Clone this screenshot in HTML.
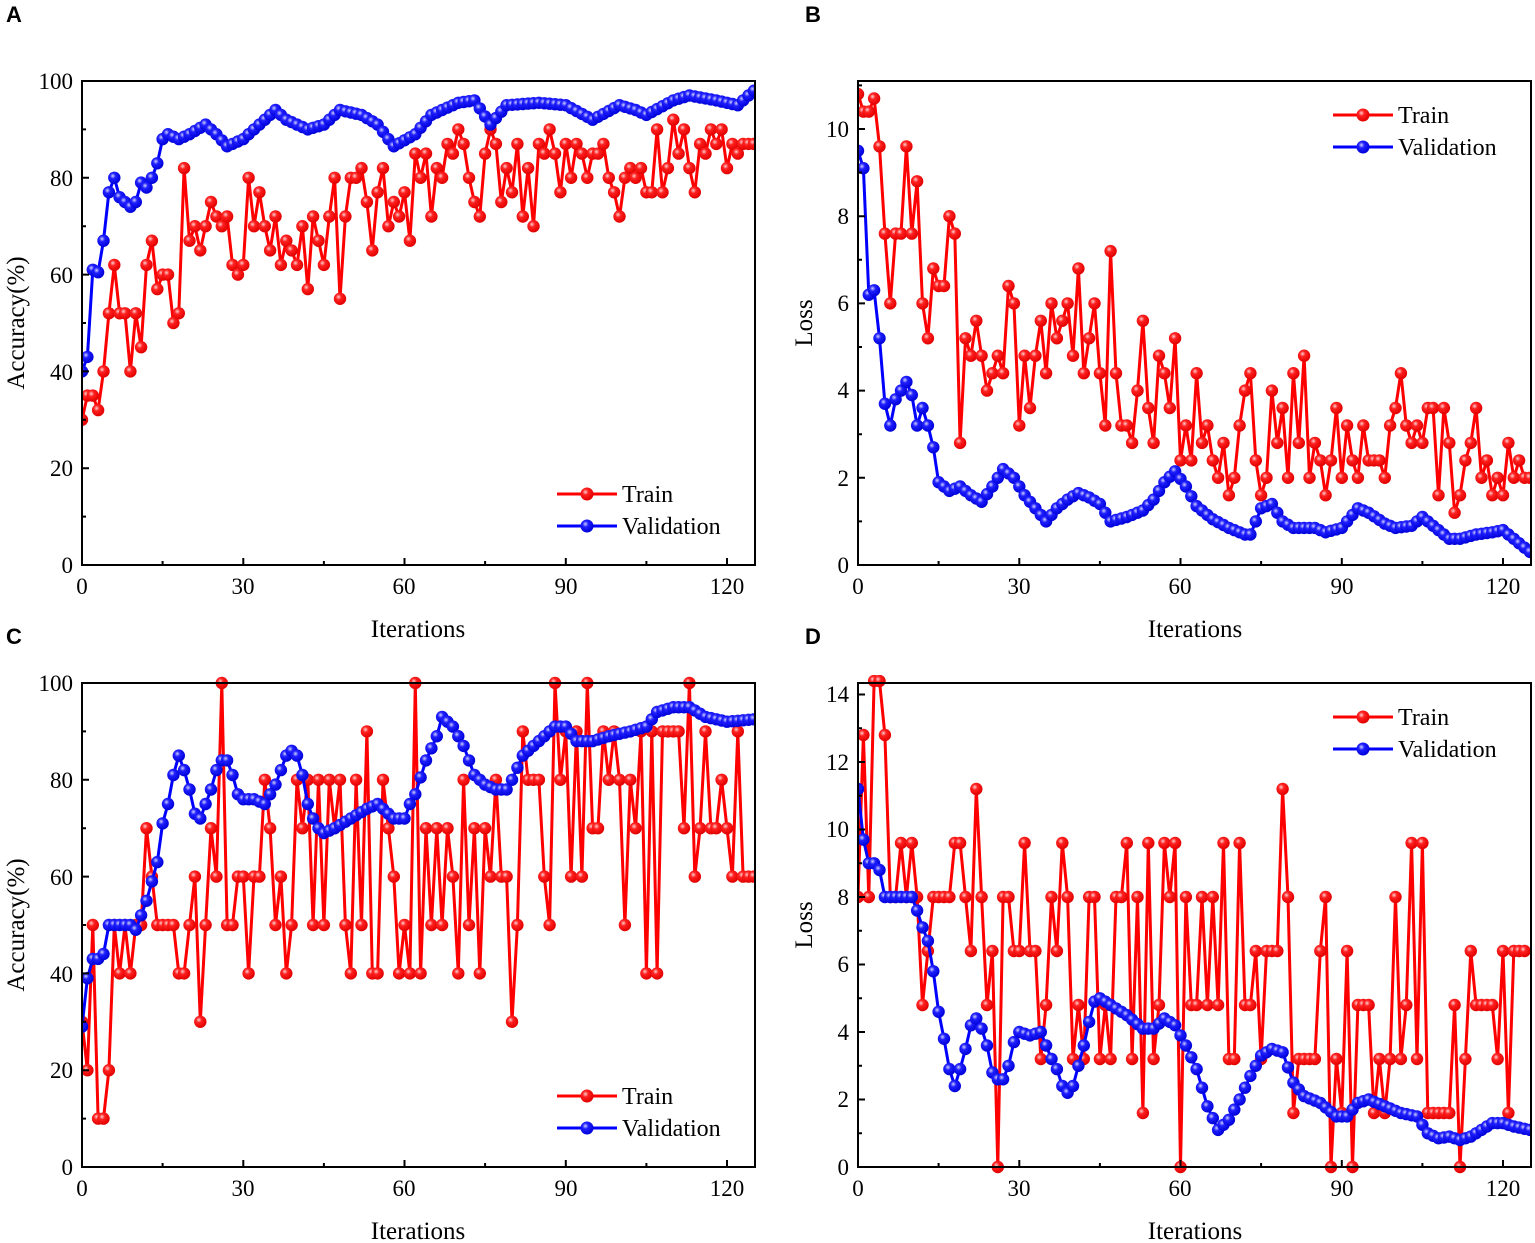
<!DOCTYPE html>
<html><head><meta charset="utf-8"><style>
html,body{margin:0;padding:0;background:#fff}
svg{display:block}
text{font-family:"Liberation Serif",serif;fill:#000}
.lt{font-family:"Liberation Sans",sans-serif;font-weight:bold;font-size:22px}
</style></head><body>
<svg id="s" width="1535" height="1243" xmlns="http://www.w3.org/2000/svg">
<defs>
<radialGradient id="gr" cx="0.38" cy="0.35" r="0.65"><stop offset="0" stop-color="#ffd0d0"/><stop offset="0.35" stop-color="#ff2020"/><stop offset="1" stop-color="#e00000"/></radialGradient>
<radialGradient id="gb" cx="0.38" cy="0.35" r="0.65"><stop offset="0" stop-color="#d0d0ff"/><stop offset="0.35" stop-color="#2020ff"/><stop offset="1" stop-color="#0000d8"/></radialGradient>
</defs>
<text class="lt" x="6" y="22">A</text>
<text class="lt" x="805" y="22">B</text>
<text class="lt" x="6" y="644">C</text>
<text class="lt" x="805" y="644">D</text>
<g font-size="23" text-anchor="end">
<text x="73" y="89">100</text><text x="73" y="186">80</text><text x="73" y="283">60</text><text x="73" y="380">40</text><text x="73" y="476">20</text><text x="73" y="573">0</text>
<text x="73" y="691">100</text><text x="73" y="788">80</text><text x="73" y="885">60</text><text x="73" y="982">40</text><text x="73" y="1078">20</text><text x="73" y="1175">0</text>
<text x="849" y="137">10</text><text x="849" y="224">8</text><text x="849" y="311">6</text><text x="849" y="398">4</text><text x="849" y="486">2</text><text x="849" y="573">0</text>
<text x="849" y="702">14</text><text x="849" y="770">12</text><text x="849" y="837">10</text><text x="849" y="905">8</text><text x="849" y="972">6</text><text x="849" y="1040">4</text><text x="849" y="1107">2</text><text x="849" y="1175">0</text>
</g>
<g font-size="23" text-anchor="middle">
<text x="82" y="594">0</text><text x="243" y="594">30</text><text x="404" y="594">60</text><text x="566" y="594">90</text><text x="727" y="594">120</text>
<text x="858" y="594">0</text><text x="1019" y="594">30</text><text x="1180" y="594">60</text><text x="1342" y="594">90</text><text x="1503" y="594">120</text>
<text x="82" y="1196">0</text><text x="243" y="1196">30</text><text x="404" y="1196">60</text><text x="566" y="1196">90</text><text x="727" y="1196">120</text>
<text x="858" y="1196">0</text><text x="1019" y="1196">30</text><text x="1180" y="1196">60</text><text x="1342" y="1196">90</text><text x="1503" y="1196">120</text>
<text x="418" y="637" font-size="25">Iterations</text><text x="1195" y="637" font-size="25">Iterations</text>
<text x="418" y="1239" font-size="25">Iterations</text><text x="1195" y="1239" font-size="25">Iterations</text>
<text transform="translate(24,323) rotate(-90)" font-size="25">Accuracy(%)</text>
<text transform="translate(24,925) rotate(-90)" font-size="25">Accuracy(%)</text>
<text transform="translate(812,323) rotate(-90)" font-size="25">Loss</text>
<text transform="translate(812,925) rotate(-90)" font-size="25">Loss</text>
</g>
<g font-size="24">
<text x="622" y="502">Train</text><text x="622" y="534">Validation</text>
<text x="1398" y="123">Train</text><text x="1398" y="155">Validation</text>
<text x="622" y="1104">Train</text><text x="622" y="1136">Validation</text>
<text x="1398" y="725">Train</text><text x="1398" y="757">Validation</text>
</g>
<g id="plots"></g>
</svg>
<script>
function interp(k,n){var keys=Object.keys(k).map(Number).sort((a,b)=>a-b),o=[];for(var i=0;i<n;i++){var j=0;while(j<keys.length-1&&keys[j+1]<i)j++;var a=keys[j],b=keys[Math.min(j+1,keys.length-1)];if(i<=a){o.push(k[a]);continue}if(i>=b){o.push(k[b]);continue}o.push(k[a]+(k[b]-k[a])*(i-a)/(b-a))}return o}
var N=126;
var aT=[30,35,35,32,40,52,62,52,52,40,52,45,62,67,57,60,60,50,52,82,67,70,65,70,75,72,70,72,62,60,62,80,70,77,70,65,72,62,67,65,62,70,57,72,67,62,72,80,55,72,80,80,82,75,65,77,82,70,75,72,77,67,85,80,85,72,82,80,87,85,90,87,80,75,72,85,90,87,75,82,77,87,72,82,70,87,85,90,85,77,87,80,87,85,80,85,85,87,80,77,72,80,82,80,82,77,77,90,77,82,92,85,90,82,77,87,85,90,87,90,82,87,85,87,87,87];
var aV=interp({0:40,1:43,2:61,3:60.5,4:67,5:77,6:80,7:76,8:75,9:74,10:75,11:79,12:78,13:80,14:83,15:88,16:89,18:88,20:89,23:91,25:89,27:86.5,30:88,33:91,36:94,38:92,42:90,45:91,48:94,52:93,55:91,58:86.5,62:89,65:93,70:95.5,73:96,76:91,79:95,85:95.5,90:95,95:92,100:95,103:94,105:93,110:96,113:97,118:96,122:95,125:98},N);
var bT=[10.8,10.4,10.4,10.7,9.6,7.6,6,7.6,7.6,9.6,7.6,8.8,6,5.2,6.8,6.4,6.4,8,7.6,2.8,5.2,4.8,5.6,4.8,4,4.4,4.8,4.4,6.4,6,3.2,4.8,3.6,4.8,5.6,4.4,6,5.2,5.6,6,4.8,6.8,4.4,5.2,6,4.4,3.2,7.2,4.4,3.2,3.2,2.8,4,5.6,3.6,2.8,4.8,4.4,3.6,5.2,2.4,3.2,2.4,4.4,2.8,3.2,2.4,2,2.8,1.6,2,3.2,4,4.4,2.4,1.6,2,4,2.8,3.6,2,4.4,2.8,4.8,2,2.8,2.4,1.6,2.4,3.6,2,3.2,2.4,2,3.2,2.4,2.4,2.4,2,3.2,3.6,4.4,3.2,2.8,3.2,2.8,3.6,3.6,1.6,3.6,2.8,1.2,1.6,2.4,2.8,3.6,2,2.4,1.6,2,1.6,2.8,2,2.4,2,2];
var bV=interp({0:9.5,1:9.1,2:6.2,3:6.3,4:5.2,5:3.7,6:3.2,7:3.8,8:4,9:4.2,10:3.9,11:3.2,12:3.6,13:3.2,14:2.7,15:1.9,17:1.7,19:1.8,21:1.6,23:1.45,25:1.8,27:2.2,29:2,31:1.6,33:1.3,35:1.0,37:1.3,39:1.5,41:1.65,43:1.55,45:1.4,47:1.0,50:1.1,53:1.25,55:1.5,57:1.9,59:2.15,61:1.8,63:1.35,66:1.05,69:0.85,72:0.7,73:0.7,75:1.3,77:1.4,79:1.0,81:0.85,85:0.85,87:0.75,90:0.85,93:1.3,95:1.2,98:0.95,100:0.85,103:0.9,105:1.1,107:0.9,110:0.6,112:0.6,115:0.7,118:0.75,120:0.8,122:0.6,125:0.3},N);
var cT=[30,20,50,10,10,20,50,40,50,40,50,50,70,60,50,50,50,50,40,40,50,60,30,50,70,60,100,50,50,60,60,40,60,60,80,70,50,60,40,50,80,70,80,50,80,50,80,70,80,50,40,80,50,90,40,40,80,70,60,40,50,40,100,40,70,50,70,50,70,60,40,80,50,70,40,70,60,80,60,60,30,50,90,80,80,80,60,50,100,80,90,60,90,60,100,70,70,90,80,90,80,50,80,70,90,40,90,40,90,90,90,90,70,100,60,70,90,70,70,80,70,60,90,60,60,60];
var cV=interp({0:29,1:39,2:43,3:43,4:44,5:50,8:50,9:50,10:49,11:52,12:55,13:59,14:63,15:71,16:75,17:81,18:85,19:82,20:78,21:73,22:72,23:75,24:78,25:82,26:84,27:84,28:81,29:77,30:76,32:76,34:75,36:79,38:85,39:86,40:85,41:81,42:75,43:72,44:70,45:69,47:70,50:72,53:74,55:75,57:73,58:72,60:72,61:75,62:77,64:84,66:89,67:93,69:91,71:87,73:81,75:79,77:78,79:78,80:80,82:85,84:87,86:89,88:91,90:91,92:88,95:88,98:89,102:90,105:91,107:94,110:95,113:95,116:93,120:92,125:92.5},N);
var dT=[8,12.8,8,14.4,14.4,12.8,8,8,9.6,8,9.6,8,4.8,6.4,8,8,8,8,9.6,9.6,8,6.4,11.2,8,4.8,6.4,0,8,8,6.4,6.4,9.6,6.4,6.4,3.2,4.8,8,6.4,9.6,8,3.2,4.8,3.2,8,8,3.2,4.8,3.2,8,8,9.6,3.2,8,1.6,9.6,3.2,4.8,9.6,8,9.6,0,8,4.8,4.8,8,4.8,8,4.8,9.6,3.2,3.2,9.6,4.8,4.8,6.4,3.2,6.4,6.4,6.4,11.2,8,1.6,3.2,3.2,3.2,3.2,6.4,8,0,3.2,1.6,6.4,0,4.8,4.8,4.8,1.6,3.2,1.6,3.2,8,3.2,4.8,9.6,3.2,9.6,1.6,1.6,1.6,1.6,1.6,4.8,0,3.2,6.4,4.8,4.8,4.8,4.8,3.2,6.4,1.6,6.4,6.4,6.4];
var dV=interp({0:11.2,1:9.7,2:9,3:9,4:8.8,5:8,8:8,10:8,11:7.6,12:7.1,13:6.7,14:5.8,15:4.6,16:3.8,17:2.9,18:2.4,19:2.9,20:3.5,21:4.2,22:4.4,23:4.1,24:3.6,25:2.8,26:2.6,27:2.6,28:3,29:3.7,30:4,32:3.9,34:4,35:3.6,36:3.2,37:2.9,38:2.4,39:2.2,40:2.4,41:3.0,42:3.6,43:4.3,44:4.9,45:5,47:4.8,50:4.5,53:4.1,55:4.1,57:4.4,59:4.2,61:3.6,63:2.9,65:1.8,67:1.1,69:1.4,71:2.0,73:2.7,75:3.3,77:3.5,79:3.4,81:2.5,83:2.1,86:1.9,89:1.5,91:1.5,93:1.9,95:2.0,98:1.8,101:1.6,104:1.5,106:1.0,108:0.85,110:0.9,112:0.8,114:0.9,116:1.1,118:1.3,120:1.3,122:1.2,125:1.1},N);
var h='';
function panel(x0,yb,yt,ymax,major,minor,ser,lx,ly,xr){
 var W=xr-x0,sx=5.375,sy=(yb-yt)/ymax;
 h+='<clipPath id="c'+x0+yb+'"><rect x="'+x0+'" y="'+(yt-8)+'" width="'+W+'" height="'+(yb-yt+16)+'"/></clipPath>';
 ser.forEach(function(s){
  var d='',c='';
  s.d.forEach(function(v,i){var x=x0+i*sx,y=yb-v*sy;if(x>xr+4)return;d+=(i?'L':'M')+x.toFixed(1)+' '+y.toFixed(1);c+='<circle cx="'+x.toFixed(1)+'" cy="'+y.toFixed(1)+'" r="6.2"/>';});
  h+='<g clip-path="url(#c'+x0+yb+')"><path d="'+d+'" fill="none" stroke="'+s.c+'" stroke-width="3" stroke-linejoin="round"/><g fill="url(#'+s.g+')">'+c+'</g></g>';
 });
 h+='<rect x="'+x0+'" y="'+yt+'" width="'+W+'" height="'+(yb-yt)+'" fill="none" stroke="#000" stroke-width="2"/>';
 var t='';
 for(var v=0;v<=ymax+1e-6;v+=minor){var y=yb-v*sy;var L=(Math.abs(v/major-Math.round(v/major))<1e-6)?7:4;t+='M'+x0+' '+y.toFixed(1)+'h'+L;}
 for(var i=0;i<=125;i+=15){var x=x0+i*sx;var L=(i%30==0)?7:4;t+='M'+x.toFixed(1)+' '+yb+'v-'+L;}
 h+='<path d="'+t+'" stroke="#000" stroke-width="2"/>';
 [[ser[0],ly],[ser[1],ly+32]].forEach(function(p){h+='<line x1="'+lx+'" x2="'+(lx+60)+'" y1="'+p[1]+'" y2="'+p[1]+'" stroke="'+p[0].c+'" stroke-width="3"/><circle cx="'+(lx+30)+'" cy="'+p[1]+'" r="6.5" fill="url(#'+p[0].g+')"/>';});
}
var R={c:'#ff0000',g:'gr'},B={c:'#0000ff',g:'gb'};
panel(82,565,81,100,20,10,[Object.assign({d:aT},R),Object.assign({d:aV},B)],557,494,755);
panel(858,565,81,(565-81)/43.6,2,1,[Object.assign({d:bT},R),Object.assign({d:bV},B)],1333,115,1531);
panel(82,1167,683,100,20,10,[Object.assign({d:cT},R),Object.assign({d:cV},B)],557,1096,755);
panel(858,1167,683,(1167-683)/33.75,2,1,[Object.assign({d:dT},R),Object.assign({d:dV},B)],1333,717,1531);
document.getElementById('plots').innerHTML=h;
</script>
</body></html>
